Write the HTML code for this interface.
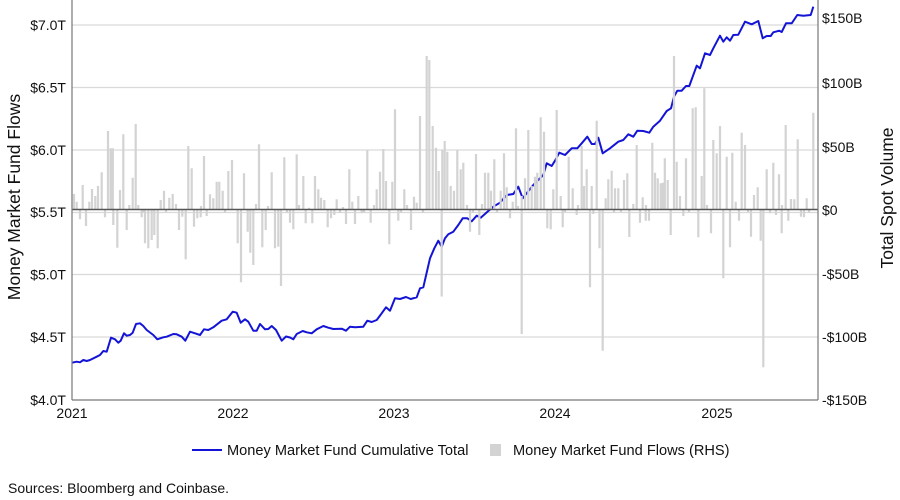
<!DOCTYPE html>
<html><head><meta charset="utf-8"><style>
html,body{margin:0;padding:0;background:#fff;}
svg{display:block;font-family:"Liberation Sans",Arial,sans-serif;}
</style></head><body>
<svg width="900" height="500" viewBox="0 0 900 500" xmlns="http://www.w3.org/2000/svg">
<rect width="900" height="500" fill="#fff"/>
<!-- gridlines -->
<g stroke="#d9d9d9" stroke-width="1.2">
<line x1="72" x2="818" y1="25" y2="25"/>
<line x1="72" x2="818" y1="87.5" y2="87.5"/>
<line x1="72" x2="818" y1="150" y2="150"/>
<line x1="72" x2="818" y1="212.5" y2="212.5"/>
<line x1="72" x2="818" y1="274.5" y2="274.5"/>
<line x1="72" x2="818" y1="337" y2="337"/>
</g>
<!-- line series -->
<polyline fill="none" stroke="#1414d6" stroke-width="2" stroke-linejoin="round" points="72,362.7 76.7,361.7 80,362.3 83.3,360 86.7,361 90,360 96.7,356.7 100,355 103.3,351 106.7,351.7 111,337.7 115,339.3 118.3,342.7 120.7,340.7 124,333.3 126.7,335.7 130,335 132.7,332.7 136,324 140,323.3 143.3,326 146.7,330 153.3,335 157.3,339.3 163.3,337.3 166.7,336.7 173.3,334 176.7,334.3 181.7,336.7 185.3,340.7 190,331.7 195,333.3 200,335 204,329.3 208.3,330 213.3,327.3 221.7,320.7 226.7,319.3 232.7,311.7 236.7,312.7 240.7,322.7 245,319.3 248.3,321.7 253.3,330.7 256.7,330.7 260,324 265,329.3 268.3,329 271.7,326 276,330 281.7,340.7 286,336.5 290,337.5 293.3,339.3 296.7,334 302.7,331 306.7,332.3 311.7,333.3 316.7,329.3 323.3,326 328.3,327.7 333.3,329 341.7,328.7 346,330.7 350,326.7 355,327.3 363.3,326.7 367.3,320.7 371.7,322 376.7,320 381.7,313.3 386,307.3 390,310.7 395,298.3 400,299 406,297 410.7,299 416.7,297.3 420,288.3 423.3,287.3 427.3,270 430,258.3 434.3,248.3 438.3,240.7 441.7,246.7 445,238.3 448.3,234.3 453.3,231.7 458.3,225 462.7,218.3 467.3,218.3 471.7,221.3 476.7,215.7 480.7,217.7 488.3,211 493.3,206.7 500,202.7 506.7,195 513.3,194 518.3,186.7 522.7,198.3 526.7,193.3 533.3,185 543.3,175 546.7,163.3 551.7,166 555,160.7 559.3,152.7 565,155 571.7,148.3 577.3,148.3 581.7,143.3 587.3,136.7 591.7,144 595,144 598.3,137.7 602.7,153.3 610,148.3 618.3,141.7 623.3,140 628.3,134.3 633.3,136.7 637.3,130.7 643.3,131 649.3,132.7 653.3,126.7 660,120.7 666.7,111 671,108.3 674,96.7 677.3,90.7 681.7,90.7 686,86 689.3,86 696.7,65.7 700,68.3 705,53.3 710,55 713.3,48.3 720,35.7 723.3,41.7 726.7,37.3 730,40.7 733.3,35 738.3,34.7 745,21.7 751.7,24.3 758.3,21 762.7,38.3 766.7,36 770.7,36 773.3,32.3 779.3,30.7 781.7,32 786,23.3 791.7,23.3 797.3,15 803.3,15.7 810.7,15 813.3,6.7"/>
<!-- bars -->
<g id="bars" stroke="#d3d3d3" stroke-width="2.2" fill="none">
<path d="M74,209.5V194M76.7,209.5V201.7M82.7,209.5V185M89.3,209.5V201.7M92,209.5V189M95.3,209.5V196M98,209.5V186M101.7,209.5V172.3M108,209.5V131M110.6,209.5V148.3M112.8,209.5V148.3M120,209.5V190M123.3,209.5V134.3M129.3,209.5V205M132.7,209.5V177.7M135.7,209.5V124M138.3,209.5V205M160.7,209.5V200M164,209.5V190.7M169.3,209.5V197.7M172.7,209.5V194M176,209.5V204M188.3,209.5V146M191.7,209.5V168.3M204,209.5V156M210,209.5V194.3M213.3,209.5V198.3M216.7,209.5V181.7M219.3,209.5V181.7M222.7,209.5V190.7M228.3,209.5V171M232,209.5V160M244,209.5V173.3M256,209.5V204M259,209.5V144.3M271.7,209.5V172.3M284.3,209.5V157.3M296.7,209.5V154.3M303.3,209.5V176M309,209.5V207.7M315,209.5V176M318.3,209.5V189.3M321,209.5V197.7M324.3,209.5V200M336.7,209.5V199.3M349.3,209.5V169.3M352.3,209.5V201.7M358.3,209.5V196M367.3,209.5V150M374,209.5V205M376.7,209.5V189.3M380,209.5V171.7M383.3,209.5V149M386,209.5V181M392.3,209.5V181.7M395,209.5V109.3M404.3,209.5V189.3M414,209.5V196.7M416.7,209.5V202.7M420,209.5V116M426.7,209.5V56M429.3,209.5V60M432.7,209.5V126M436,209.5V147.7M438.7,209.5V171M442.3,209.5V150M444.7,209.5V141M447.3,209.5V151.7M450.7,209.5V186M454,209.5V190.7M457.3,209.5V150M460.7,209.5V169.3M463.3,209.5V162.7M476,209.5V154M482,209.5V204M485,209.5V172.7M488.3,209.5V172.7M491,209.5V190.7M494.3,209.5V159.3M500.7,209.5V190.7M504,209.5V153.3M506.7,209.5V187.3M512.7,209.5V201.7M516,209.5V128.3M521.7,209.5V196M525,209.5V178.3M528.3,209.5V130M531.7,209.5V186M535,209.5V176.7M537.3,209.5V172.7M540.7,209.5V117.3M544,209.5V131.7M553.3,209.5V189.3M556.7,209.5V110M560.7,209.5V196M568.7,209.5V156.7M572.7,209.5V188.3M581.7,209.5V146M584,209.5V186M586.7,209.5V169.3M591.7,209.5V186M596.7,209.5V120.7M605.7,209.5V198.3M608.3,209.5V179.3M611.7,209.5V170.7M615,209.5V188.3M618.3,209.5V188.3M624,209.5V180M627.3,209.5V173.3M633.3,209.5V204M636.7,209.5V145M642.7,209.5V197.3M652.3,209.5V142.7M655,209.5V172.7M657.7,209.5V178.3M660.7,209.5V183.3M662.8,209.5V182.7M664.8,209.5V158.3M667.7,209.5V180M674,209.5V56M676.7,209.5V161.7M680,209.5V196M686,209.5V158.3M692.7,209.5V108.3M695.7,209.5V107.3M701.7,209.5V176M704.3,209.5V88.3M713.3,209.5V140M716.7,209.5V153.3M720,209.5V126M726.7,209.5V156.7M732.3,209.5V152.7M735.7,209.5V201.7M741.7,209.5V132.7M745,209.5V145M754,209.5V195M757.7,209.5V187.3M766.7,209.5V169.3M773.3,209.5V162.7M779,209.5V174.3M785.7,209.5V125M791,209.5V199M794.3,209.5V199.3M797.7,209.5V139.3M806.7,209.5V198.3M813.3,209.5V112.7"/>
<path d="M80,209.5V219.3M86,209.5V226M105,209.5V217.3M113.3,209.5V225M117.3,209.5V247.7M126.7,209.5V230M141.7,209.5V217.3M145,209.5V243.3M148.3,209.5V248.3M151.7,209.5V240M154.3,209.5V235M157.7,209.5V248.3M179,209.5V230M182.3,209.5V216.7M185.7,209.5V259.3M194,209.5V226.7M197.3,209.5V218.3M200.7,209.5V217.3M206.7,209.5V216M237.7,209.5V243.3M241,209.5V282.3M247.7,209.5V231.7M250.3,209.5V252.7M253.3,209.5V265M262.3,209.5V247.3M265.7,209.5V230M275,209.5V248.3M278.3,209.5V246.7M281,209.5V286M290,209.5V222.7M293.3,209.5V229.3M305.7,209.5V223.3M312.3,209.5V223.3M327.7,209.5V227.3M331,209.5V218.3M334.3,209.5V215M346,209.5V224M355,209.5V224M361.7,209.5V213.3M370.7,209.5V222.7M389.3,209.5V244.3M398.3,209.5V220.7M411,209.5V230M441.7,209.5V296.5M470,209.5V231.7M479.3,209.5V235M510,209.5V218.3M521.7,209.5V334M547.3,209.5V228.3M550.7,209.5V229.3M562.7,209.5V227.3M576.7,209.5V215M590,209.5V287.3M593.3,209.5V214M599.5,209.5V248.3M602.7,209.5V350.7M629.3,209.5V237M640,209.5V222.7M645.7,209.5V220.7M649,209.5V220.7M670.7,209.5V235M683.3,209.5V216M698.3,209.5V237.3M711,209.5V233.3M723.3,209.5V278.3M730,209.5V247.3M739,209.5V220.7M751,209.5V236.7M760.7,209.5V240.7M763.3,209.5V367.3M770,209.5V213.3M776,209.5V215M781.7,209.5V233.3M788.3,209.5V220.7M801,209.5V216.7M804,209.5V217.3"/>
<path d="M143,209.5V213M166,209.5V212M201,209.5V206M225,209.5V213M268,209.5V206M287,209.5V213M299,209.5V205M340,209.5V213M343,209.5V207M364,209.5V213M401,209.5V213M407,209.5V205M423,209.5V213M467,209.5V205M473,209.5V213M497,209.5V213M518,209.5V206M565,209.5V212M578,209.5V205M614,209.5V213M621,209.5V212M646,209.5V205M689,209.5V212M707,209.5V205M748,209.5V212M782,209.5V205M809,209.5V213"/>
</g>
<!-- zero line -->
<line x1="72" x2="818" y1="209.5" y2="209.5" stroke="#555" stroke-width="1.6"/>
<!-- axes -->
<g stroke="#777" stroke-width="1.2">
<line x1="72" x2="72" y1="0" y2="400"/>
<line x1="818" x2="818" y1="0" y2="400"/>
<line x1="72" x2="818" y1="400" y2="400"/>
</g>
<!-- left ticks -->
<g font-size="14" fill="#111" text-anchor="end">
<text x="66" y="30">$7.0T</text>
<text x="66" y="92.5">$6.5T</text>
<text x="66" y="155">$6.0T</text>
<text x="66" y="217">$5.5T</text>
<text x="66" y="279.5">$5.0T</text>
<text x="66" y="342">$4.5T</text>
<text x="66" y="405">$4.0T</text>
</g>
<!-- right ticks -->
<g font-size="14" fill="#111" text-anchor="start">
<text x="822" y="23">$150B</text>
<text x="822" y="88">$100B</text>
<text x="822" y="152">$50B</text>
<text x="822" y="215">$0</text>
<text x="822" y="279">-$50B</text>
<text x="822" y="342">-$100B</text>
<text x="822" y="405">-$150B</text>
</g>
<!-- x ticks -->
<g font-size="14" fill="#111" text-anchor="middle">
<text x="72" y="418">2021</text>
<text x="233" y="418">2022</text>
<text x="394" y="418">2023</text>
<text x="555" y="418">2024</text>
<text x="717" y="418">2025</text>
</g>
<!-- axis titles -->
<text transform="translate(20,197) rotate(-90)" font-size="17.5" fill="#111" text-anchor="middle">Money Market Fund Flows</text>
<text transform="translate(893,198) rotate(-90)" font-size="17.5" fill="#111" text-anchor="middle">Total Spot Volume</text>
<!-- legend -->
<line x1="192" x2="222" y1="450" y2="450" stroke="#1414d6" stroke-width="2"/>
<text x="227" y="455" font-size="14.6" fill="#111">Money Market Fund Cumulative Total</text>
<rect x="490" y="444" width="11" height="12" fill="#d3d3d3"/>
<text x="513" y="455" font-size="14.6" fill="#111">Money Market Fund Flows (RHS)</text>
<!-- source -->
<text x="8" y="493" font-size="14" fill="#111">Sources: Bloomberg and Coinbase.</text>
</svg>
</body></html>
